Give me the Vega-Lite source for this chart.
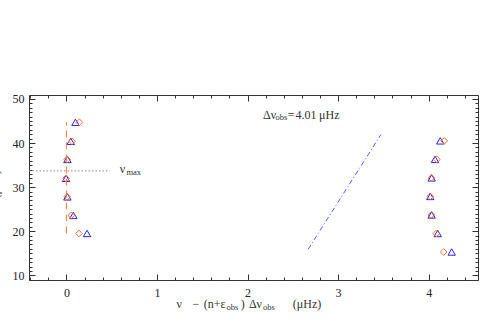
{
  "$schema": "https://vega.github.io/schema/vega-lite/v6.json",
  "width": 449,
  "height": 185,
  "autosize": "none",
  "padding": {"left": 29, "top": 95, "right": 2, "bottom": 39},
  "background": "white",
  "config": {
    "view": {"stroke": null},
    "axis": {"grid": false, "domainColor": "#333", "tickColor": "#333", "labelFont": "Liberation Serif", "labelFontSize": 12, "labelColor": "#222", "titleFont": "Liberation Serif", "titleFontSize": 12, "titleFontWeight": "normal", "titleColor": "#222", "domainWidth": 1, "tickWidth": 1}
  },
  "datasets": {
    "pts": [
      {"x": 0.100, "y": 44.7, "s": "t"}, {"x": 0.048, "y": 40.4, "s": "t"}, {"x": 0.011, "y": 36.3, "s": "t"}, {"x": -0.004, "y": 32.0, "s": "t"}, {"x": 0.011, "y": 27.8, "s": "t"}, {"x": 0.077, "y": 23.6, "s": "t"}, {"x": 0.228, "y": 19.5, "s": "t"},
      {"x": 4.128, "y": 40.5, "s": "t"}, {"x": 4.070, "y": 36.3, "s": "t"}, {"x": 4.033, "y": 32.1, "s": "t"}, {"x": 4.018, "y": 27.9, "s": "t"}, {"x": 4.033, "y": 23.7, "s": "t"}, {"x": 4.100, "y": 19.5, "s": "t"}, {"x": 4.254, "y": 15.3, "s": "t"},
      {"x": 0.144, "y": 44.7, "s": "d"}, {"x": 0.062, "y": 40.4, "s": "d"}, {"x": 0.008, "y": 36.3, "s": "d"}, {"x": -0.004, "y": 32.0, "s": "d"}, {"x": 0.008, "y": 27.8, "s": "d"}, {"x": 0.055, "y": 23.6, "s": "d"}, {"x": 0.139, "y": 19.5, "s": "d"},
      {"x": 4.172, "y": 40.5, "s": "d"}, {"x": 4.090, "y": 36.3, "s": "d"}, {"x": 4.030, "y": 32.1, "s": "d"}, {"x": 4.018, "y": 27.9, "s": "d"}, {"x": 4.030, "y": 23.7, "s": "d"}, {"x": 4.085, "y": 19.5, "s": "d"}, {"x": 4.166, "y": 15.3, "s": "d"}
    ],
    "main_txt": [
      {"x": 2.17, "y": 46.45, "t": "Δν"},
      {"x": 2.445, "y": 46.45, "t": "="},
      {"x": 2.53, "y": 46.45, "t": "4.01"},
      {"x": 2.79, "y": 46.45, "t": "μHz"},
      {"x": 0.59, "y": 34.2, "t": "ν"},
      {"x": 1.215, "y": 3.6, "t": "ν"},
      {"x": 1.392, "y": 3.6, "t": "−"},
      {"x": 1.517, "y": 3.6, "t": "(n+ε"},
      {"x": 1.925, "y": 3.6, "t": ")"},
      {"x": 2.015, "y": 3.6, "t": "Δν"},
      {"x": 2.50, "y": 3.6, "t": "(μHz)"}
    ],
    "sub_txt": [
      {"x": 2.31, "y": 45.8, "t": "obs"},
      {"x": 0.663, "y": 33.45, "t": "max"},
      {"x": 1.768, "y": 2.85, "t": "obs"},
      {"x": 2.17, "y": 2.85, "t": "obs"}
    ]
  },
  "resolve": {"axis": {"x": "independent", "y": "independent"}},
  "layer": [
    {
      "data": {"name": "pts"},
      "transform": [{"filter": "datum.s == 't'"}],
      "mark": {"type": "point", "shape": "triangle-up", "filled": false, "stroke": "#2424f0", "strokeWidth": 1, "size": 55, "opacity": 1},
      "encoding": {
        "x": {"field": "x", "type": "quantitative", "scale": {"domain": [-0.413, 4.545], "nice": false, "zero": false},
              "axis": {"orient": "bottom", "values": [0, 1, 2, 3, 4], "tickSize": -6, "labelPadding": 13, "title": null, "domain": true}},
        "y": {"field": "y", "type": "quantitative", "scale": {"domain": [8.95, 50.9], "nice": false, "zero": false},
              "axis": {"orient": "left", "values": [10, 20, 30, 40, 50], "tickSize": -6, "labelPadding": 11, "title": "ν  (μHz)", "titleX": -31, "titleY": 93, "titleAngle": -90, "titleBaseline": "alphabetic", "titleAlign": "center", "domain": true}}
      }
    },
    {
      "data": {"name": "pts"},
      "transform": [{"filter": "datum.s == 'd'"}],
      "mark": {"type": "point", "shape": "diamond", "filled": false, "stroke": "#ff6a2a", "strokeWidth": 1, "size": 45, "opacity": 1},
      "encoding": {
        "x": {"field": "x", "type": "quantitative", "scale": {"domain": [-0.413, 4.545], "nice": false, "zero": false},
              "axis": {"orient": "bottom", "values": [-0.4, -0.2, 0.2, 0.4, 0.6, 0.8, 1.2, 1.4, 1.6, 1.8, 2.2, 2.4, 2.6, 2.8, 3.2, 3.4, 3.6, 3.8, 4.2, 4.4], "tickSize": -3, "labels": false, "title": null, "domain": false}},
        "y": {"field": "y", "type": "quantitative", "scale": {"domain": [8.95, 50.9], "nice": false, "zero": false},
              "axis": {"orient": "left", "values": [9, 11, 12, 13, 14, 15, 16, 17, 18, 19, 21, 22, 23, 24, 25, 26, 27, 28, 29, 31, 32, 33, 34, 35, 36, 37, 38, 39, 41, 42, 43, 44, 45, 46, 47, 48, 49], "tickSize": -3, "labels": false, "title": null, "domain": false}}
      }
    },
    {
      "data": {"values": [{"x": 0, "y": 19.5, "y2": 44.7}]},
      "mark": {"type": "rule", "stroke": "#ff7a30", "strokeWidth": 1, "strokeDash": [7, 5]},
      "encoding": {
        "x": {"field": "x", "type": "quantitative", "scale": {"domain": [-0.413, 4.545], "nice": false, "zero": false},
              "axis": {"orient": "top", "values": [0, 1, 2, 3, 4], "tickSize": -6, "labels": false, "title": null, "domain": true}},
        "y": {"field": "y", "type": "quantitative", "scale": {"domain": [8.95, 50.9], "nice": false, "zero": false},
              "axis": {"orient": "right", "values": [10, 20, 30, 40, 50], "tickSize": -6, "labels": false, "title": null, "domain": true}},
        "y2": {"field": "y2"}
      }
    },
    {
      "data": {"values": [{"x": -0.413, "x2": 0.48, "y": 33.7}]},
      "mark": {"type": "rule", "stroke": "#888", "strokeWidth": 1, "strokeDash": [1.5, 2]},
      "encoding": {
        "x": {"field": "x", "type": "quantitative", "scale": {"domain": [-0.413, 4.545], "nice": false, "zero": false},
              "axis": {"orient": "top", "values": [-0.4, -0.2, 0.2, 0.4, 0.6, 0.8, 1.2, 1.4, 1.6, 1.8, 2.2, 2.4, 2.6, 2.8, 3.2, 3.4, 3.6, 3.8, 4.2, 4.4], "tickSize": -3, "labels": false, "title": null, "domain": false}},
        "x2": {"field": "x2"},
        "y": {"field": "y", "type": "quantitative", "scale": {"domain": [8.95, 50.9], "nice": false, "zero": false},
              "axis": {"orient": "right", "values": [9, 11, 12, 13, 14, 15, 16, 17, 18, 19, 21, 22, 23, 24, 25, 26, 27, 28, 29, 31, 32, 33, 34, 35, 36, 37, 38, 39, 41, 42, 43, 44, 45, 46, 47, 48, 49], "tickSize": -3, "labels": false, "title": null, "domain": false}}
      }
    },
    {
      "data": {"values": [{"x": 2.67, "y": 15.94}, {"x": 3.473, "y": 41.93}]},
      "mark": {"type": "line", "stroke": "#4a5cff", "strokeWidth": 1, "strokeDash": [5, 2.5, 1, 2.5]},
      "encoding": {
        "x": {"field": "x", "type": "quantitative", "scale": {"domain": [-0.413, 4.545], "nice": false, "zero": false}, "axis": null},
        "y": {"field": "y", "type": "quantitative", "scale": {"domain": [8.95, 50.9], "nice": false, "zero": false}, "axis": null}
      }
    },
    {
      "data": {"name": "main_txt"},
      "mark": {"type": "text", "font": "Liberation Serif", "fontSize": 12, "align": "left", "baseline": "middle", "color": "#333"},
      "encoding": {
        "x": {"field": "x", "type": "quantitative", "scale": {"domain": [-0.413, 4.545], "nice": false, "zero": false}, "axis": null},
        "y": {"field": "y", "type": "quantitative", "scale": {"domain": [8.95, 50.9], "nice": false, "zero": false}, "axis": null},
        "text": {"field": "t"}
      }
    },
    {
      "data": {"name": "sub_txt"},
      "mark": {"type": "text", "font": "Liberation Serif", "fontSize": 8.5, "align": "left", "baseline": "middle", "color": "#333"},
      "encoding": {
        "x": {"field": "x", "type": "quantitative", "scale": {"domain": [-0.413, 4.545], "nice": false, "zero": false}, "axis": null},
        "y": {"field": "y", "type": "quantitative", "scale": {"domain": [8.95, 50.9], "nice": false, "zero": false}, "axis": null},
        "text": {"field": "t"}
      }
    }
  ]
}
